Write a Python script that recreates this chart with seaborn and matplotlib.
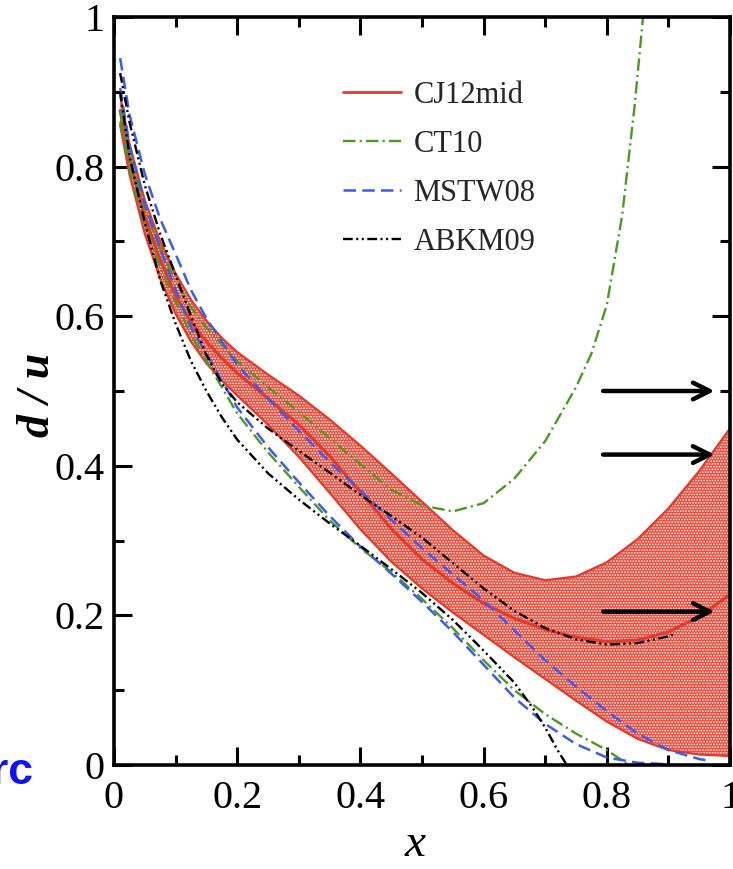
import matplotlib
matplotlib.use("Agg")
import matplotlib.pyplot as plt
import seaborn as sns
from matplotlib.ticker import MultipleLocator, FuncFormatter
from matplotlib.lines import Line2D
from matplotlib.font_manager import FontProperties

# ---- d/u ratio: CJ12mid band and central value ----
x_cj = [0.01, 0.025, 0.05, 0.075, 0.1, 0.125, 0.15, 0.175, 0.2, 0.25, 0.3, 0.35, 0.4,
        0.45, 0.5, 0.55, 0.6, 0.65, 0.7, 0.75, 0.8, 0.85, 0.9, 0.95, 1.0]
cj_upper = [0.895, 0.83, 0.755, 0.70, 0.657, 0.622, 0.594, 0.571, 0.552, 0.522, 0.494, 0.462, 0.427,
            0.39, 0.352, 0.314, 0.28, 0.257, 0.247, 0.252, 0.271, 0.302, 0.343, 0.393, 0.45]
cj_lower = [0.855, 0.79, 0.71, 0.65, 0.603, 0.566, 0.537, 0.514, 0.494, 0.455, 0.412, 0.364, 0.315,
            0.272, 0.236, 0.204, 0.174, 0.144, 0.115, 0.086, 0.058, 0.035, 0.02, 0.014, 0.012]
cj_central = [0.875, 0.81, 0.733, 0.675, 0.628, 0.592, 0.566, 0.544, 0.524, 0.49, 0.455, 0.413, 0.365,
              0.316, 0.275, 0.243, 0.216, 0.196, 0.181, 0.171, 0.165, 0.167, 0.178, 0.198, 0.228]

# ---- CT10 error bounds ----
x_ct_up = [0.01, 0.025, 0.05, 0.075, 0.1, 0.125, 0.15, 0.2, 0.25, 0.3, 0.35, 0.4, 0.45,
           0.5, 0.55, 0.6, 0.65, 0.7, 0.75, 0.775, 0.8, 0.825, 0.845, 0.86]
ct_upper = [0.875, 0.815, 0.745, 0.69, 0.648, 0.612, 0.585, 0.54, 0.505, 0.472, 0.437, 0.402, 0.368,
            0.347, 0.339, 0.35, 0.383, 0.433, 0.505, 0.55, 0.615, 0.735, 0.88, 1.01]
x_ct_lo = [0.01, 0.025, 0.05, 0.075, 0.1, 0.125, 0.15, 0.2, 0.25, 0.3, 0.35, 0.4, 0.45,
           0.5, 0.55, 0.6, 0.65, 0.7, 0.75, 0.8, 0.825, 0.835]
ct_lower = [0.86, 0.795, 0.722, 0.665, 0.62, 0.575, 0.54, 0.47, 0.418, 0.372, 0.327, 0.29, 0.258,
            0.222, 0.183, 0.14, 0.10, 0.068, 0.042, 0.02, 0.006, 0.0]

# ---- MSTW08 error bounds ----
x_mstw_up = [0.01, 0.025, 0.05, 0.075, 0.1, 0.125, 0.15, 0.2, 0.25, 0.3, 0.35, 0.4, 0.45,
             0.5, 0.55, 0.6, 0.65, 0.7, 0.75, 0.8, 0.85, 0.9, 0.95, 0.97]
mstw_upper = [0.945, 0.87, 0.79, 0.73, 0.683, 0.635, 0.597, 0.535, 0.49, 0.447, 0.405, 0.367, 0.328,
              0.29, 0.255, 0.22, 0.18, 0.14, 0.105, 0.072, 0.042, 0.02, 0.008, 0.005]
x_mstw_lo = [0.01, 0.025, 0.05, 0.075, 0.1, 0.125, 0.15, 0.2, 0.25, 0.3, 0.35, 0.4, 0.45,
             0.5, 0.55, 0.6, 0.65, 0.7, 0.75, 0.8, 0.85, 0.9]
mstw_lower = [0.905, 0.83, 0.75, 0.69, 0.635, 0.585, 0.55, 0.478, 0.425, 0.378, 0.333, 0.292, 0.256,
              0.218, 0.178, 0.134, 0.09, 0.055, 0.028, 0.01, 0.003, 0.001]

# ---- ABKM09 error bounds ----
x_abkm_up = [0.01, 0.025, 0.05, 0.075, 0.1, 0.125, 0.15, 0.175, 0.2, 0.25, 0.3, 0.35, 0.4, 0.45,
             0.5, 0.55, 0.6, 0.65, 0.7, 0.75, 0.8, 0.85, 0.9, 0.91]
abkm_upper = [0.925, 0.86, 0.775, 0.71, 0.655, 0.6, 0.548, 0.51, 0.485, 0.45, 0.42, 0.391, 0.361, 0.333,
              0.304, 0.27, 0.236, 0.206, 0.183, 0.168, 0.161, 0.163, 0.172, 0.175]
x_abkm_lo = [0.01, 0.025, 0.05, 0.075, 0.1, 0.125, 0.15, 0.175, 0.2, 0.25, 0.3, 0.35, 0.4, 0.45,
             0.5, 0.55, 0.6, 0.65, 0.68, 0.7, 0.72, 0.735]
abkm_lower = [0.9, 0.815, 0.725, 0.648, 0.59, 0.54, 0.5, 0.465, 0.435, 0.39, 0.355, 0.323, 0.293, 0.262,
              0.23, 0.194, 0.153, 0.11, 0.076, 0.05, 0.02, 0.0]

# ---- limits predicted at x -> 1 ----
arrow_values = [0.5, 0.415, 0.205]
arrow_x_start = 0.794
arrow_x_end = 0.975

xtick_values = [0, 0.2, 0.4, 0.6, 0.8, 1.0]
ytick_values = [0, 0.2, 0.4, 0.6, 0.8, 1.0]

RED = "#e3392a"
RED_FILL = "#ee4a38"
GREEN = "#4a9a22"
BLUE = "#3a5cf2"
BLACK = "#000000"

sns.set_theme(style="ticks")
plt.rcParams["font.family"] = ["Liberation Serif", "DejaVu Serif"]
plt.rcParams["lines.scale_dashes"] = False
plt.rcParams["hatch.color"] = "white"
plt.rcParams["hatch.linewidth"] = 0.8

fig = plt.figure(figsize=(7.33, 8.69), dpi=100)
fig.patch.set_facecolor("white")
ax = fig.add_axes([114 / 733, 104 / 869, 616 / 733, 748 / 869])
ax.set_facecolor("white")

# CJ12mid uncertainty band: red fill with white dot texture
ax.fill_between(x_cj, cj_lower, cj_upper, facecolor=RED_FILL, edgecolor="none", lw=0, zorder=1)
ax.fill_between(x_cj, cj_lower, cj_upper, facecolor="none", edgecolor="white",
                hatch="......", lw=0, zorder=1.1)
sns.lineplot(x=x_cj, y=cj_upper, ax=ax, color=RED, lw=1.6, zorder=1.2, sort=False)
sns.lineplot(x=x_cj, y=cj_lower, ax=ax, color=RED, lw=1.6, zorder=1.2, sort=False)
sns.lineplot(x=x_cj, y=cj_central, ax=ax, color=RED, lw=2.2, zorder=1.3, sort=False)

ct_style = (0, (9, 3, 1.5, 3))
mstw_style = (0, (9, 4.5))
abkm_style = (0, (7, 2.5, 1.5, 2.5, 1.5, 2.5))

for xs, ys in [(x_ct_up, ct_upper), (x_ct_lo, ct_lower)]:
    sns.lineplot(x=xs, y=ys, ax=ax, color=GREEN, lw=1.7, linestyle=ct_style, zorder=3, sort=False)
for xs, ys in [(x_mstw_up, mstw_upper), (x_mstw_lo, mstw_lower)]:
    sns.lineplot(x=xs, y=ys, ax=ax, color=BLUE, lw=1.8, linestyle=mstw_style, zorder=3, sort=False)
for xs, ys in [(x_abkm_up, abkm_upper), (x_abkm_lo, abkm_lower)]:
    sns.lineplot(x=xs, y=ys, ax=ax, color=BLACK, lw=1.7, linestyle=abkm_style, zorder=3, sort=False)

# arrows marking the x -> 1 limits
for v in arrow_values:
    ax.annotate("", xy=(arrow_x_end, v), xytext=(arrow_x_start, v),
                arrowprops=dict(arrowstyle="->", lw=3.2, color="black",
                                mutation_scale=30, shrinkA=0, shrinkB=0),
                zorder=5)

ax.set_xlim(0, 1)
ax.set_ylim(0, 1)
ax.set_xticks(xtick_values)
ax.set_yticks(ytick_values)
ax.xaxis.set_minor_locator(MultipleLocator(0.1))
ax.yaxis.set_minor_locator(MultipleLocator(0.1))
fmt = FuncFormatter(lambda v, _: f"{v:g}")
ax.xaxis.set_major_formatter(fmt)
ax.yaxis.set_major_formatter(fmt)
ax.tick_params(which="both", direction="in", top=True, right=True, color="black", width=2.2)
ax.tick_params(which="major", length=13, labelsize=29, labelcolor="black")
ax.tick_params(which="minor", length=7)
ax.tick_params(axis="x", pad=11)
ax.tick_params(axis="y", pad=7)
for sp in ax.spines.values():
    sp.set_linewidth(2.6)
    sp.set_color("black")
    sp.set_zorder(6)

ax.set_xlabel("x", fontsize=34, fontstyle="italic", family=["Liberation Serif"], color="black")
ax.xaxis.label.set_verticalalignment("center")
ax.xaxis.set_label_coords(0.489, -0.107)
ax.set_ylabel("d / u", fontsize=33, fontstyle="italic", fontweight="bold",
              family=["Liberation Serif"], color="black")
ax.yaxis.label.set_verticalalignment("center")
ax.yaxis.set_label_coords(-0.123, 0.495)

handles = [
    Line2D([], [], color=RED, lw=2.0),
    Line2D([], [], color=GREEN, lw=1.7, linestyle=ct_style),
    Line2D([], [], color=BLUE, lw=1.8, linestyle=mstw_style),
    Line2D([], [], color=BLACK, lw=1.7, linestyle=abkm_style),
]
labels = ["CJ12mid", "CT10", "MSTW08", "ABKM09"]
ax.legend(handles, labels, loc="upper left", bbox_to_anchor=(0.372, 0.915), frameon=False,
          prop=FontProperties(family="Liberation Serif", size=22), handlelength=1.9,
          handletextpad=0.4, labelspacing=0.66, borderpad=0, borderaxespad=0)

fig.text(-0.012, 0.1116, "rc", color="#1010ff", fontsize=32, fontweight="bold",
         family=["Liberation Sans"], ha="left", va="center")

fig.savefig("out.png", dpi=100, facecolor="white")
